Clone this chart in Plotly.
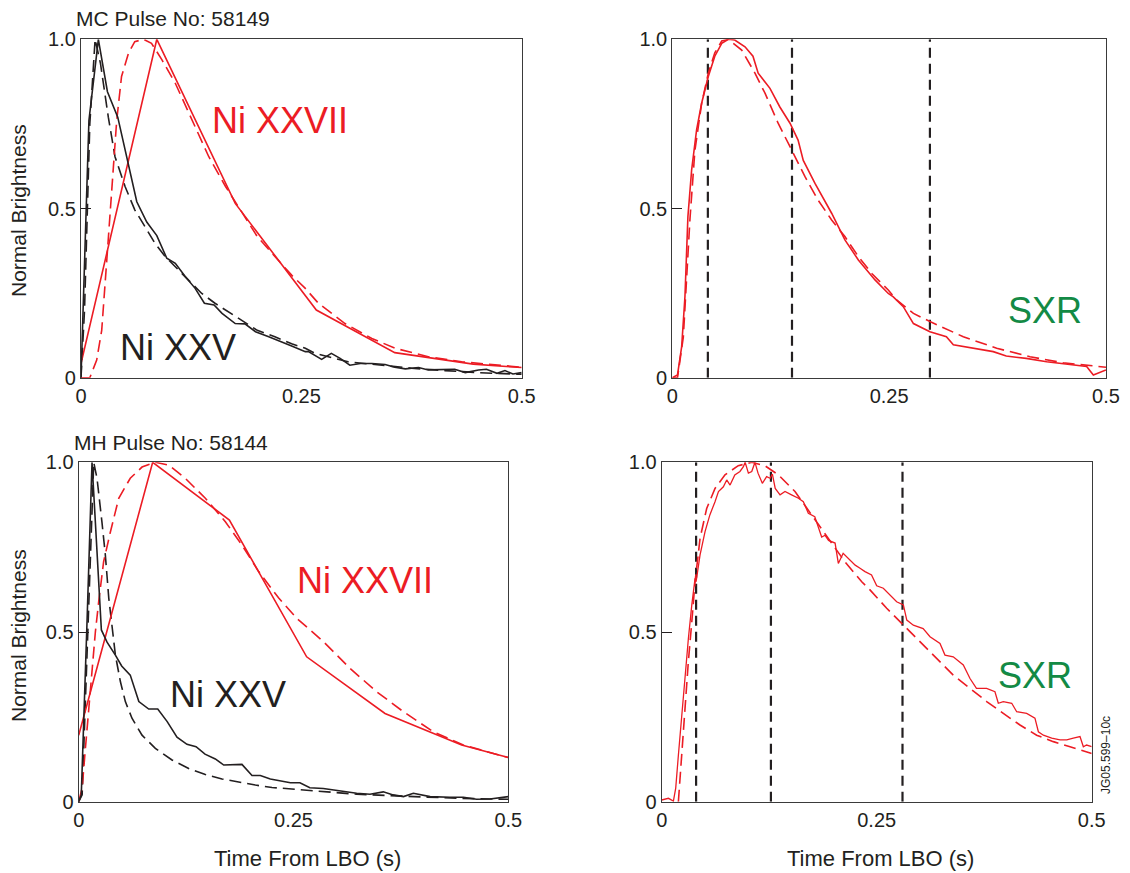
import plotly.graph_objects as go

# ---------------- data ----------------
# Top-left: MC Pulse No: 58149
mc_ni25_t = [0, 0.009, 0.0197, 0.030, 0.0417, 0.0519, 0.0633, 0.0746, 0.086, 0.0973, 0.107, 0.118,
             0.1295, 0.14, 0.151, 0.16, 0.175, 0.186, 0.198, 0.213, 0.228, 0.239, 0.2545, 0.258, 0.273,
             0.284, 0.294, 0.305, 0.317, 0.33, 0.345, 0.356, 0.368, 0.383, 0.394, 0.409, 0.424, 0.436,
             0.451, 0.46, 0.472, 0.481, 0.49, 0.5]
mc_ni25_y = [0, 0.76, 1.0, 0.845, 0.77, 0.648, 0.52, 0.46, 0.42, 0.353, 0.338, 0.30,
             0.264, 0.22, 0.215, 0.19, 0.16, 0.159, 0.136, 0.121, 0.106, 0.094, 0.077, 0.077, 0.054,
             0.072, 0.057, 0.037, 0.042, 0.042, 0.039, 0.031, 0.026, 0.030, 0.023, 0.023, 0.025, 0.015,
             0.023, 0.025, 0.013, 0.021, 0.011, 0.015]
mc_ni25_fit_t = [0, 0.004, 0.010, 0.016, 0.022, 0.031, 0.0386, 0.05, 0.061, 0.0727, 0.084, 0.0955,
                 0.107, 0.122, 0.137, 0.152, 0.167, 0.183, 0.2, 0.22, 0.239, 0.2545, 0.2655, 0.303,
                 0.337, 0.375, 0.413, 0.45, 0.5]
mc_ni25_fit_y = [0, 0.2, 0.75, 1.0, 0.93, 0.77, 0.653, 0.565, 0.496, 0.446, 0.397, 0.358,
                 0.328, 0.289, 0.249, 0.22, 0.195, 0.17, 0.14, 0.121, 0.10, 0.087, 0.072, 0.047,
                 0.037, 0.028, 0.021, 0.015, 0.01]
mc_ni27_t = [0, 0.086, 0.175, 0.267, 0.356, 0.445, 0.5]
mc_ni27_y = [0.042, 1.0, 0.515, 0.20, 0.074, 0.04, 0.03]
mc_ni27_fit_t = [0, 0.01, 0.0178, 0.0235, 0.029, 0.035, 0.0405, 0.046, 0.054, 0.061, 0.071, 0.08,
                 0.0917, 0.107, 0.126, 0.145, 0.164, 0.183, 0.2, 0.22, 0.239, 0.2545, 0.2693,
                 0.2995, 0.33, 0.3563, 0.394, 0.432, 0.47, 0.5]
mc_ni27_fit_y = [0, 0, 0.052, 0.14, 0.338, 0.555, 0.76, 0.89, 0.96, 0.993, 1.0, 0.988,
                 0.94, 0.87, 0.76, 0.653, 0.565, 0.486, 0.417, 0.358, 0.303, 0.264, 0.22,
                 0.16, 0.116, 0.087, 0.062, 0.047, 0.037, 0.031]

# Top-right: SXR for pulse 58149
mc_sxr_t = [0, 0.006, 0.0108, 0.0146, 0.018, 0.0223, 0.028, 0.0338, 0.0415, 0.049, 0.057, 0.0646,
            0.072, 0.0838, 0.093, 0.099, 0.1126, 0.124, 0.1357, 0.145, 0.151, 0.1645, 0.1837, 0.199,
            0.2145, 0.2337, 0.249, 0.2548, 0.2663, 0.278, 0.297, 0.316, 0.324, 0.347, 0.37, 0.385,
            0.408, 0.4316, 0.455, 0.4777, 0.4854, 0.5]
mc_sxr_y = [0, 0.008, 0.092, 0.24, 0.476, 0.614, 0.732, 0.811, 0.89, 0.95, 0.988, 1.0,
            0.998, 0.978, 0.95, 0.90, 0.855, 0.80, 0.752, 0.702, 0.642, 0.574, 0.486, 0.407,
            0.348, 0.289, 0.249, 0.239, 0.21, 0.16, 0.136, 0.121, 0.097, 0.087, 0.077, 0.064,
            0.057, 0.047, 0.039, 0.033, 0.008, 0.023]
mc_sxr_fit_t = [0, 0.006, 0.0127, 0.0165, 0.0204, 0.026, 0.0338, 0.0415, 0.049, 0.057, 0.0646, 0.08,
                0.0953, 0.107, 0.122, 0.1376, 0.153, 0.168, 0.1837, 0.199, 0.2145, 0.23, 0.249,
                0.2586, 0.278, 0.297, 0.3355, 0.374, 0.4124, 0.4508, 0.5]
mc_sxr_fit_y = [0, 0, 0.12, 0.30, 0.47, 0.67, 0.81, 0.90, 0.96, 0.995, 1.0, 0.968,
                0.90, 0.84, 0.752, 0.673, 0.594, 0.525, 0.466, 0.417, 0.358, 0.308, 0.259,
                0.23, 0.19, 0.166, 0.121, 0.087, 0.062, 0.044, 0.031]
mc_marks = [0.041, 0.138, 0.297]

# Bottom-left: MH Pulse No: 58144
mh_ni25_t = [0, 0.003, 0.0097, 0.0155, 0.0264, 0.033, 0.0427, 0.05, 0.06, 0.07, 0.0815, 0.092, 0.103,
             0.1144, 0.126, 0.1366, 0.147, 0.159, 0.1688, 0.18, 0.19, 0.2017, 0.2114, 0.223, 0.2347,
             0.2464, 0.2575, 0.269, 0.2847, 0.304, 0.3235, 0.339, 0.3545, 0.366, 0.378, 0.3895,
             0.409, 0.432, 0.4477, 0.463, 0.4787, 0.5]
mh_ni25_y = [0, 0.02, 0.53, 1.0, 0.506, 0.47, 0.432, 0.40, 0.373, 0.295, 0.273, 0.273, 0.236,
             0.19, 0.169, 0.162, 0.14, 0.126, 0.108, 0.108, 0.11, 0.077, 0.077, 0.067, 0.061,
             0.056, 0.056, 0.041, 0.039, 0.031, 0.025, 0.022, 0.029, 0.02, 0.015, 0.025,
             0.015, 0.013, 0.013, 0.007, 0.008, 0.015]
mh_ni25_fit_t = [0, 0.004, 0.0175, 0.0213, 0.027, 0.031, 0.035, 0.0388, 0.0427, 0.0485, 0.0543, 0.062,
                 0.0737, 0.0892, 0.1086, 0.128, 0.1474, 0.1668, 0.186, 0.2056, 0.225, 0.254, 0.2847,
                 0.3235, 0.3623, 0.401, 0.44, 0.5]
mh_ni25_fit_y = [0, 0.02, 1.0, 0.953, 0.825, 0.727, 0.6, 0.51, 0.432, 0.354, 0.295, 0.246,
                 0.196, 0.157, 0.123, 0.098, 0.08, 0.067, 0.057, 0.049, 0.042, 0.036, 0.029,
                 0.022, 0.018, 0.013, 0.01, 0.007]
mh_ni27_t = [0, 0.0861, 0.1754, 0.2653, 0.3565, 0.4457, 0.5]
mh_ni27_y = [0.196, 1.0, 0.83, 0.427, 0.26, 0.167, 0.13]
mh_ni27_fit_t = [0, 0.004, 0.0078, 0.0136, 0.0194, 0.0233, 0.029, 0.0368, 0.0466, 0.06, 0.0737, 0.0892,
                 0.1047, 0.124, 0.1474, 0.1707, 0.19, 0.2095, 0.2328, 0.254, 0.2847, 0.3157, 0.3468,
                 0.378, 0.4127, 0.4476, 0.5]
mh_ni27_fit_y = [0, 0.04, 0.157, 0.334, 0.50, 0.59, 0.707, 0.794, 0.894, 0.953, 0.986, 1.0,
                 0.992, 0.953, 0.894, 0.825, 0.756, 0.678, 0.60, 0.54, 0.472, 0.393, 0.324,
                 0.265, 0.206, 0.167, 0.13]

# Bottom-right: SXR for pulse 58144
mh_sxr_t = [0, 0.0078, 0.0136, 0.0163, 0.0194, 0.0233, 0.027, 0.031, 0.035, 0.0388, 0.04, 0.0446,
            0.0504, 0.056, 0.062, 0.066, 0.0717, 0.0756, 0.0795, 0.085, 0.091, 0.095, 0.097, 0.1008,
            0.1047, 0.1085, 0.112, 0.117, 0.122, 0.126, 0.1287, 0.132, 0.1376, 0.1434, 0.151, 0.159,
            0.1647, 0.1705, 0.178, 0.182, 0.186, 0.19, 0.194, 0.2016, 0.2054, 0.211, 0.217, 0.225,
            0.2306, 0.2364, 0.244, 0.25, 0.2577, 0.2655, 0.2732, 0.281, 0.285, 0.2926, 0.304,
            0.312, 0.3236, 0.3294, 0.339, 0.3507, 0.3585, 0.366, 0.3778, 0.3875, 0.3914, 0.3972,
            0.407, 0.4128, 0.4244, 0.434, 0.438, 0.4438, 0.4535, 0.4632, 0.471, 0.4786, 0.4864,
            0.4903, 0.494, 0.5]
mh_sxr_y = [0.005, 0.01, 0.002, 0.04, 0.137, 0.255, 0.383, 0.48, 0.58, 0.658, 0.648, 0.727,
            0.796, 0.845, 0.884, 0.914, 0.928, 0.948, 0.933, 0.963, 0.973, 0.987, 1.0, 0.968,
            0.973, 1.0, 0.968, 0.938, 0.958, 0.953, 0.965, 0.923, 0.904, 0.914, 0.904, 0.894,
            0.884, 0.85, 0.84, 0.81, 0.78, 0.785, 0.77, 0.762, 0.702, 0.732, 0.717, 0.697,
            0.688, 0.678, 0.668, 0.636, 0.629, 0.609, 0.589, 0.58, 0.535, 0.52, 0.51,
            0.486, 0.466, 0.432, 0.427, 0.403, 0.363, 0.334, 0.334, 0.324, 0.29, 0.295,
            0.29, 0.265, 0.26, 0.246, 0.206, 0.196, 0.187, 0.182, 0.182, 0.187, 0.192,
            0.162, 0.167, 0.162]
mh_sxr_fit_t = [0.0194, 0.0233, 0.027, 0.031, 0.035, 0.0388, 0.0446, 0.0523, 0.062, 0.0736, 0.089,
                0.1047, 0.12, 0.1357, 0.155, 0.1744, 0.1938, 0.213, 0.2326, 0.2422, 0.2616, 0.281,
                0.3003, 0.3197, 0.339, 0.3585, 0.3779, 0.3972, 0.4166, 0.436, 0.4554, 0.4748, 0.5]
mh_sxr_fit_y = [0, 0.137, 0.285, 0.413, 0.53, 0.648, 0.776, 0.864, 0.923, 0.963, 0.99,
                1.0, 0.99, 0.963, 0.914, 0.845, 0.776, 0.707, 0.648, 0.624, 0.57, 0.52,
                0.472, 0.422, 0.373, 0.334, 0.295, 0.26, 0.226, 0.196, 0.177, 0.162, 0.142]
mh_marks = [0.040, 0.127, 0.280]

x_ticks = [0, 0.25, 0.5]
x_ticktext = ["0", "0.25", "0.5"]
y_ticks = [0, 0.5, 1.0]
y_ticktext = ["0", "0.5", "1.0"]

# ---------------- styling ----------------
RED = "#ec1c24"
BLACK = "#231f20"
GREEN = "#138a45"
FONT = "Liberation Sans, Arial, Helvetica, sans-serif"
LW = 1.6
DASH = "12px,6px"

W, H = 1130, 873
# panel pixel boxes: (left, right, top, bottom)
boxes = [
    (81.0, 521.7, 39.3, 377.7),
    (672.3, 1106.0, 39.3, 377.7),
    (78.7, 508.3, 462.3, 801.7),
    (661.7, 1091.7, 462.3, 801.7),
]

fig = go.Figure()

def add_line(t, y, idx, color, dash=None, width=LW):
    sfx = "" if idx == 1 else str(idx)
    fig.add_trace(go.Scatter(
        x=t, y=y, mode="lines", xaxis="x" + sfx, yaxis="y" + sfx,
        line=dict(color=color, width=width, dash=dash), showlegend=False,
        hoverinfo="skip"))

# panel 1
add_line(mc_ni25_fit_t, mc_ni25_fit_y, 1, BLACK, DASH)
add_line(mc_ni27_fit_t, mc_ni27_fit_y, 1, RED, DASH)
add_line(mc_ni27_t, mc_ni27_y, 1, RED)
add_line(mc_ni25_t, mc_ni25_y, 1, BLACK)
# panel 2
for m in mc_marks:
    add_line([m, m], [0, 1], 2, BLACK, "10px,6px", 2.2)
add_line(mc_sxr_fit_t, mc_sxr_fit_y, 2, RED, DASH)
add_line(mc_sxr_t, mc_sxr_y, 2, RED)
# panel 3
add_line(mh_ni25_fit_t, mh_ni25_fit_y, 3, BLACK, DASH)
add_line(mh_ni27_fit_t, mh_ni27_fit_y, 3, RED, DASH)
add_line(mh_ni27_t, mh_ni27_y, 3, RED)
add_line(mh_ni25_t, mh_ni25_y, 3, BLACK)
# panel 4
for m in mh_marks:
    add_line([m, m], [0, 1], 4, BLACK, "10px,6px", 2.2)
add_line(mh_sxr_fit_t, mh_sxr_fit_y, 4, RED, DASH)
add_line(mh_sxr_t, mh_sxr_y, 4, RED, None, 1.3)

layout = dict(
    width=W, height=H, margin=dict(l=0, r=0, t=0, b=0, autoexpand=False),
    paper_bgcolor="white", plot_bgcolor="white",
    font=dict(family=FONT, color=BLACK, size=20),
    showlegend=False,
)
for i, (l, r, t, b) in enumerate(boxes, start=1):
    sfx = "" if i == 1 else str(i)
    layout["xaxis" + sfx] = dict(
        domain=[l / W, r / W], anchor="y" + sfx, range=[0, 0.5], automargin=False,
        tickvals=x_ticks, ticktext=x_ticktext, ticks="", showgrid=False, zeroline=False,
        showline=True, mirror=True, linecolor="#3a3a3a", linewidth=1.2,
        tickfont=dict(size=20, color=BLACK, family=FONT), fixedrange=True)
    layout["yaxis" + sfx] = dict(
        domain=[1 - b / H, 1 - t / H], anchor="x" + sfx, range=[0, 1], automargin=False,
        tickvals=y_ticks, ticktext=y_ticktext, ticks="inside", ticklen=10,
        tickcolor=BLACK, showgrid=False, zeroline=False,
        showline=True, mirror=True, linecolor="#3a3a3a", linewidth=1.2,
        tickfont=dict(size=20, color=BLACK, family=FONT), fixedrange=True)

ann = []
def label(text, x, y, idx, color, size=36):
    sfx = "" if idx == 1 else str(idx)
    ann.append(dict(text=text, x=x, y=y, xref="x" + sfx, yref="y" + sfx,
                    xanchor="left", yanchor="middle", showarrow=False,
                    font=dict(size=size, color=color, family=FONT)))

label("Ni XXVII", 0.1464, 0.7615, 1, RED)
label("Ni XXV", 0.042, 0.0907, 1, BLACK)
label("SXR", 0.3847, 0.198, 2, GREEN)
label("Ni XXVII", 0.2517, 0.6517, 3, RED)
label("Ni XXV", 0.1039, 0.3144, 3, BLACK)
label("SXR", 0.3887, 0.371, 4, GREEN)

def ptext(text, x, y, size=21, angle=0, xanchor="left"):
    ann.append(dict(text=text, x=x / W, y=1 - y / H, xref="paper", yref="paper",
                    xanchor=xanchor, yanchor="middle", showarrow=False, textangle=angle,
                    font=dict(size=size, color=BLACK, family=FONT)))

ptext("MC Pulse No: 58149", 74, 18)
ptext("MH Pulse No: 58144", 72, 442)
ptext("Normal Brightness", 18, 211, angle=-90, xanchor="center")
ptext("Normal Brightness", 18, 636, angle=-90, xanchor="center")
ptext("Time From LBO (s)", 307, 858, size=22, xanchor="center")
ptext("Time From LBO (s)", 880, 858, size=22, xanchor="center")
ptext("JG05.599\u201310c", 1106, 755, size=12, angle=-90, xanchor="center")

layout["annotations"] = ann
fig.update_layout(**layout)
fig.write_html("out.html")
